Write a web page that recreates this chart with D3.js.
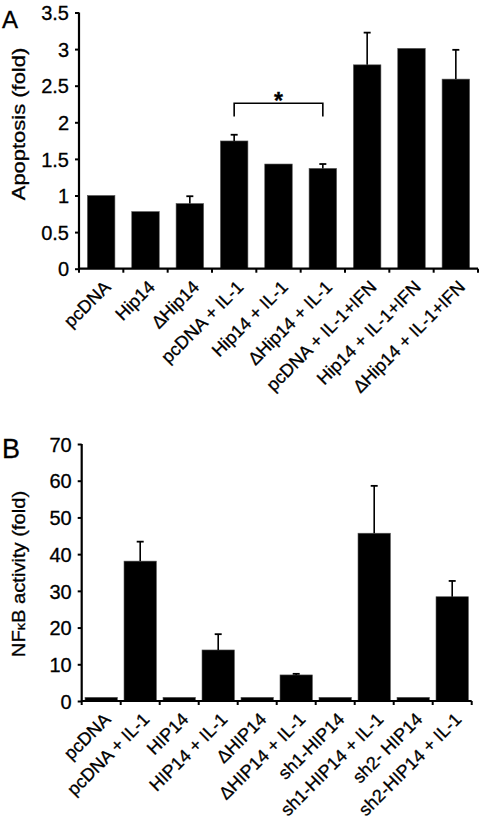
<!DOCTYPE html>
<html><head><meta charset="utf-8">
<script src="https://cdn.jsdelivr.net/npm/d3@7"></script>
<style>
body{margin:0;background:#fff;}
svg{display:block;font-family:Arial,"Liberation Sans",Helvetica,sans-serif;}
svg text{stroke:#000;stroke-width:0.3px;}
</style></head>
<body>
<svg id="chart" width="482" height="832"></svg>
<script>
// Panel A data
const catsA = ["pcDNA","Hip14","\u2206Hip14","pcDNA + IL-1","Hip14 + IL-1","\u2206Hip14 + IL-1","pcDNA + IL-1+IFN","Hip14 + IL-1+IFN","\u2206Hip14 + IL-1+IFN"];
const valsA = [1.0, 0.78, 0.89, 1.745, 1.43, 1.37, 2.785, 3.01, 2.59];
const errA  = [0, 0, 0.10, 0.085, 0, 0.06, 0.44, 0, 0.40];
const ticksA = [0, 0.5, 1, 1.5, 2, 2.5, 3, 3.5];

// Panel B data
const catsB = ["pcDNA","pcDNA + IL-1","HIP14","HIP14 + IL-1","\u0394HIP14","\u0394HIP14 + IL-1","sh1-HIP14","sh1-HIP14 + IL-1","sh2- HIP14","sh2-HIP14 + IL-1"];
const valsB = [1, 38.1, 1, 13.9, 1, 7.1, 1, 45.7, 1, 28.4];
const errB  = [0, 5.3, 0, 4.3, 0, 0.3, 0, 12.9, 0, 4.3];
const ticksB = [0, 10, 20, 30, 40, 50, 60, 70];

const svg = d3.select("#chart");

function panel(opts){
  const {cats, vals, errs, ticks, x0, x1, yBase, yTop, dMax, pad, letter, letterY, letterSize, title, titleY, titleScale} = opts;
  const g = svg.append("g");
  const x = d3.scaleBand().domain(cats).range([x0, x1]).paddingInner(pad).paddingOuter(pad/2);
  const y = d3.scaleLinear().domain([0, dMax]).range([yBase, yTop]);

  // bars
  g.selectAll("rect.bar").data(cats).join("rect")
    .attr("x", d => x(d)).attr("width", x.bandwidth())
    .attr("y", (d,i) => y(vals[i])).attr("height", (d,i) => yBase - y(vals[i]))
    .attr("fill", "#000").attr("stroke","#555").attr("stroke-width",0.6);

  // error bars (upper only)
  const eb = cats.map((c,i)=>({c, v: vals[i], e: errs[i]})).filter(d => d.e > 0);
  g.selectAll("line.ev").data(eb).join("line")
    .attr("x1", d => x(d.c)+x.bandwidth()/2).attr("x2", d => x(d.c)+x.bandwidth()/2)
    .attr("y1", d => y(d.v)).attr("y2", d => y(d.v+d.e))
    .attr("stroke","#000").attr("stroke-width",1.6);
  g.selectAll("line.ec").data(eb).join("line")
    .attr("x1", d => x(d.c)+x.bandwidth()/2-3.5).attr("x2", d => x(d.c)+x.bandwidth()/2+3.5)
    .attr("y1", d => y(d.v+d.e)).attr("y2", d => y(d.v+d.e))
    .attr("stroke","#000").attr("stroke-width",1.8);

  // y axis
  const ya = g.append("g").attr("transform", `translate(${x0},0)`)
    .call(d3.axisLeft(y).tickValues(ticks).tickFormat(d => String(d)).tickSize(4).tickPadding(6));
  ya.select(".domain").attr("stroke-width",2.2).attr("d", `M0,${yBase}V${yTop}`);
  ya.selectAll(".tick line").attr("stroke-width",2);
  ya.selectAll(".tick text").attr("font-size", 20).attr("fill","#000")
    .attr("font-family","Arial, Liberation Sans, sans-serif").attr("dy","0.36em");

  // x axis
  const xa = g.append("g").attr("transform", `translate(0,${yBase})`);
  xa.append("line").attr("x1", x0).attr("x2", x1).attr("y1",0).attr("y2",0).attr("stroke","#000").attr("stroke-width",2.2);
  const step = x.step();
  const bounds = d3.range(cats.length+1).map(i => x0 + i*step);
  xa.selectAll("line.xt").data(bounds).join("line")
    .attr("x1", d=>d).attr("x2", d=>d).attr("y1",0).attr("y2",4).attr("stroke","#000").attr("stroke-width",2);
  xa.selectAll("text.xl").data(cats).join("text")
    .attr("transform", d => `translate(${x(d)+x.bandwidth()/2+6},${15}) rotate(-45)`)
    .attr("text-anchor","end").attr("dy","0.35em")
    .attr("font-size", 18).attr("fill","#000")
    .text(d => d);

  // panel letter
  svg.append("text").attr("x", 2).attr("y", letterY).attr("font-size", letterSize).attr("stroke-width",0).text(letter);

  // y title
  const t = svg.append("text").attr("transform", `translate(25,${titleY}) rotate(-90) scale(${titleScale},1)`)
    .attr("text-anchor","middle").attr("font-size",18);
  title(t);
  return {x, y, g};
}

const A = panel({cats: catsA, vals: valsA, errs: errA, ticks: ticksA,
  x0: 79, x1: 478, yBase: 268.7, yTop: 12.5, dMax: 3.5, pad: 0.38,
  letter: "A", letterY: 28, letterSize: 24, titleY: 124, titleScale: 1.22,
  title: t => t.text("Apoptosis (fold)")});

// significance bracket in panel A
{
  const {x, y, g} = A;
  const xa = x(catsA[3]) + x.bandwidth()/2, xb = x(catsA[5]) + x.bandwidth()/2;
  const yt = y(2.26), yb = y(2.08);
  g.append("path").attr("d", `M${xa},${yb}V${yt}H${xb}V${yb}`)
    .attr("fill","none").attr("stroke","#000").attr("stroke-width",1.6);
  g.append("text").attr("x", (xa+xb)/2).attr("y", y(2.26)+6).attr("text-anchor","middle")
    .attr("font-size",23).attr("font-weight","bold").text("*");
}

panel({cats: catsB, vals: valsB, errs: errB, ticks: ticksB,
  x0: 81.7, x1: 471.7, yBase: 701, yTop: 444, dMax: 70, pad: 0.17,
  letter: "B", letterY: 458, letterSize: 27, titleY: 574, titleScale: 1.12,
  title: t => { t.append("tspan").text("NF"); t.append("tspan").attr("font-size",13).text("\u03BA"); t.append("tspan").text("B activity (fold)"); }});
</script>
</body></html>
